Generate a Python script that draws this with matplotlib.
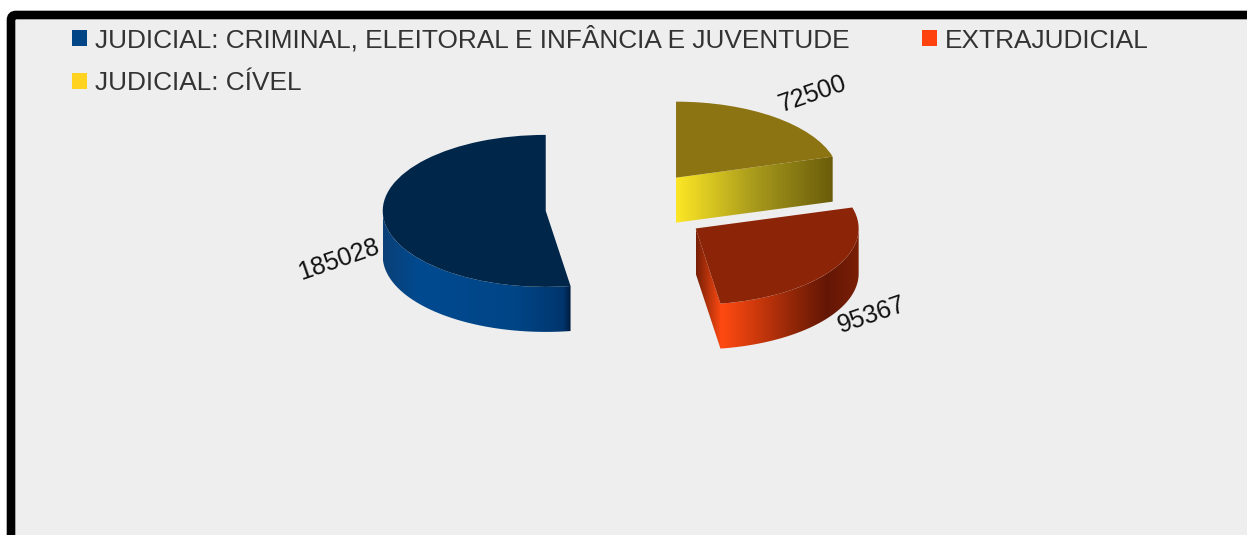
import numpy as np
import matplotlib
matplotlib.use('Agg')
import matplotlib.pyplot as plt
from matplotlib.patches import FancyBboxPatch, Patch, PathPatch
from matplotlib.path import Path
from matplotlib.colors import to_rgb
from matplotlib.transforms import Affine2D

plt.rcParams['font.family'] = ['Liberation Sans', 'DejaVu Sans']

W, H = 1247, 535

# pie data, clockwise from 12 o'clock
categories = ['JUDICIAL: CÍVEL', 'EXTRAJUDICIAL', 'JUDICIAL: CRIMINAL, ELEITORAL E INFÂNCIA E JUVENTUDE']
values = [72500, 95367, 185028]
explode = [0.5, 0.5, 0.5]
base_colors = ['#ffd320', '#ff420e', '#004586']
top_colors = ['#8c7412', '#8c2408', '#00264a']

# horizontal shading of the slice walls, left to right (position 0-1, colour)
wall_shades = [
    [(0, '#fde725'), (0.5, '#a89a1c'), (1, '#6a5c0a')],
    [(0, '#761f06'), (0.155, '#ff4a12'), (0.35, '#d23a0c'), (0.6, '#8f2607'), (0.8, '#641605'), (1, '#7a2006')],
    [(0, '#0b4078'), (0.2, '#004a90'), (0.7, '#004586'), (0.9, '#003a74'), (0.96, '#00356c'), (1, '#001c3e')],
]

# label anchor in pixels from the top left corner
label_xy = [(813, 94), (872, 315), (339, 260)]

# pixel sizes of the pie on the page
radius_x, radius_y = 163, 76
centre_x, centre_y = 627, 208
depth = 45 / radius_y

fig = plt.figure(figsize=(W / 100, H / 100), dpi=100, facecolor='white')
ax = fig.add_axes([0, 0, 1, 1])
px = Affine2D().scale(1, -1).translate(0, H)

wedges, _ = ax.pie(values, explode=explode, colors=top_colors, startangle=90, counterclock=False, radius=1)
xlim = (-centre_x / radius_x, (W - centre_x) / radius_x)
ylim = ((centre_y - H) / radius_y, centre_y / radius_y)


def shade_image(stops, n=256):
    pos = [s[0] for s in stops]
    rgb = np.array([to_rgb(s[1]) for s in stops])
    t = np.linspace(0, 1, n)
    return np.stack([np.interp(t, pos, rgb[:, i]) for i in range(3)], axis=1)[np.newaxis, :, :]


def wall_polys(w):
    # front facing wall pieces of one slice, as closed outlines
    cx, cy = w.center
    polys = []
    lo, hi = max(w.theta1, -180), min(w.theta2, 0)
    if lo < hi:
        t = np.radians(np.linspace(lo, hi, 120))
        x, y = cx + np.cos(t), cy + np.sin(t)
        polys.append(np.r_[np.c_[x, y], np.c_[x[::-1], y[::-1] - depth]])
    for ang, side in ((w.theta1, -90), (w.theta2, 90)):
        if np.sin(np.radians(ang + side)) < -1e-6:
            ex, ey = cx + np.cos(np.radians(ang)), cy + np.sin(np.radians(ang))
            polys.append(np.array([(cx, cy), (ex, ey), (ex, ey - depth), (cx, cy - depth)]))
    return polys


# background panel with the thick black edge running off the page
panel = FancyBboxPatch((11, 15), W + 100, H + 100, boxstyle='round,pad=0,rounding_size=5',
                       transform=px, facecolor='#eeeeee', edgecolor='black', linewidth=6.2,
                       clip_on=False, zorder=0)
ax.add_patch(panel)

for w, stops in zip(wedges, wall_shades):
    w.set_zorder(3)
    polys = wall_polys(w)
    x0 = min(p[:, 0].min() for p in polys)
    x1 = max(p[:, 0].max() for p in polys)
    y0 = min(p[:, 1].min() for p in polys)
    y1 = max(p[:, 1].max() for p in polys)
    verts, codes = [], []
    for p in polys:
        verts += list(p) + [p[0]]
        codes += [Path.MOVETO] + [Path.LINETO] * (len(p) - 1) + [Path.CLOSEPOLY]
    clip = PathPatch(Path(verts, codes), transform=ax.transData, facecolor='none', edgecolor='none')
    ax.add_patch(clip)
    im = ax.imshow(shade_image(stops), extent=(x0, x1, y0, y1), aspect='auto', zorder=2, interpolation='bilinear')
    im.set_clip_path(clip)

ax.set_aspect('auto')
ax.set_xlim(xlim)
ax.set_ylim(ylim)
ax.axis('off')

for val, (x, y) in zip(values, label_xy):
    ax.text(x, y, str(val), transform=px, rotation=19, rotation_mode='anchor', ha='center', va='center',
            fontsize=18.2, color='#111111', zorder=5)

# legend fills column by column
order = [2, 0, 1]
handles = [Patch(facecolor=base_colors[i], edgecolor='none') for i in order]
labels = [categories[i] for i in order]
leg = ax.legend(handles, labels, ncol=2, loc='upper left', bbox_to_anchor=(72 / W, 1 - 26 / H),
                bbox_transform=fig.transFigure, frameon=False, fontsize=18.93, labelcolor='#333333',
                handlelength=0.58, handleheight=0.58, handletextpad=0.3, columnspacing=2.75,
                labelspacing=0.72, borderpad=0, borderaxespad=0)
leg.set_zorder(6)

fig.savefig('out.png', dpi=100, facecolor='white')
